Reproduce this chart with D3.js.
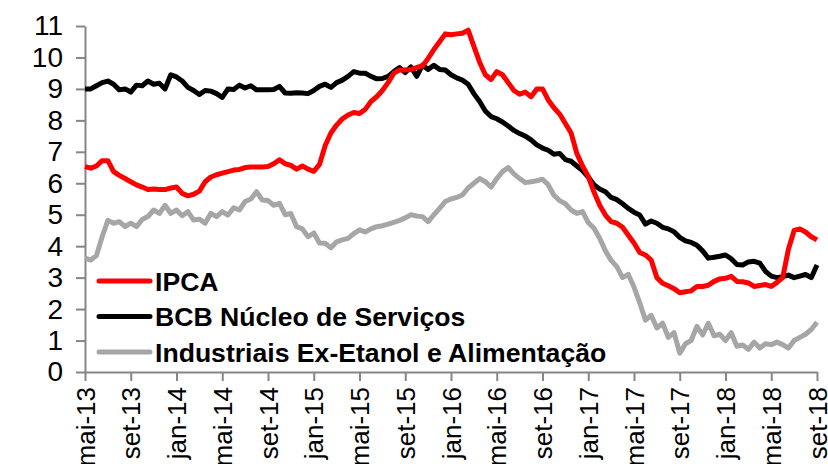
<!DOCTYPE html>
<html>
<head>
<meta charset="utf-8">
<script src="https://cdn.jsdelivr.net/npm/d3@7"></script>
<style>
body { margin: 0; background: #fff; }
svg { display: block; font-family: "Liberation Sans", Arial, sans-serif; }
</style>
</head>
<body>
<div id="chart"></div>
<script>
// readings every half month, mai-13 .. set-18
var xLabels = ["mai-13","set-13","jan-14","mai-14","set-14","jan-15","mai-15","set-15","jan-16",
               "mai-16","set-16","jan-17","mai-17","set-17","jan-18","mai-18","set-18"];
var yTicks = [0,1,2,3,4,5,6,7,8,9,10,11];

var ipca = [6.53,6.48,6.55,6.72,6.72,6.37,6.25,6.15,6.05,5.95,
            5.88,5.8,5.82,5.8,5.8,5.85,5.88,5.68,5.6,5.65,
            5.75,6.05,6.2,6.27,6.32,6.37,6.42,6.44,6.5,6.52,
            6.52,6.52,6.53,6.62,6.75,6.62,6.57,6.45,6.55,6.45,
            6.38,6.6,7.2,7.6,7.85,8.05,8.17,8.25,8.22,8.35,
            8.6,8.75,8.95,9.2,9.5,9.6,9.6,9.62,9.68,9.73,
            9.97,10.25,10.5,10.75,10.72,10.75,10.77,10.87,10.35,9.85,
            9.45,9.3,9.55,9.45,9.2,8.95,8.83,8.9,8.75,9.0,
            9.0,8.65,8.4,8.2,7.9,7.6,6.95,6.55,6.22,5.72,
            5.3,4.99,4.78,4.73,4.6,4.35,4.1,3.8,3.72,3.56,
            3.0,2.82,2.74,2.65,2.52,2.55,2.58,2.72,2.72,2.76,
            2.88,2.96,2.98,3.04,2.88,2.87,2.83,2.72,2.75,2.78,
            2.72,2.85,3.0,3.9,4.5,4.55,4.45,4.3,4.2];

var servicos = [9.0,9.0,9.1,9.2,9.25,9.15,8.97,9.0,8.9,9.12,
                9.1,9.25,9.15,9.18,9.0,9.45,9.38,9.25,9.05,8.95,
                8.82,8.95,8.93,8.85,8.73,9.0,8.98,9.12,9.03,9.1,
                8.97,8.97,8.97,8.98,9.08,8.87,8.86,8.88,8.87,8.85,
                8.95,9.08,9.15,9.05,9.2,9.28,9.4,9.55,9.5,9.5,
                9.4,9.32,9.33,9.4,9.55,9.68,9.52,9.7,9.4,9.75,
                9.62,9.75,9.62,9.6,9.45,9.35,9.28,9.15,8.85,8.6,
                8.3,8.12,8.05,7.95,7.82,7.68,7.58,7.5,7.38,7.22,
                7.12,7.05,6.92,6.95,6.75,6.7,6.55,6.4,6.2,5.95,
                5.82,5.73,5.55,5.48,5.35,5.2,5.08,4.99,4.7,4.8,
                4.73,4.6,4.55,4.46,4.28,4.17,4.12,4.03,3.85,3.62,
                3.65,3.68,3.72,3.6,3.42,3.4,3.5,3.52,3.46,3.2,
                3.05,3.0,3.03,3.08,3.0,3.05,3.1,3.0,3.4];

var industriais = [3.62,3.56,3.7,4.3,4.82,4.73,4.78,4.62,4.73,4.62,
                   4.85,4.94,5.15,5.04,5.3,5.04,5.15,4.97,5.1,4.83,
                   4.86,4.73,5.04,4.94,5.1,4.99,5.22,5.15,5.42,5.5,
                   5.73,5.47,5.45,5.3,5.36,5.0,5.04,4.62,4.55,4.3,
                   4.42,4.1,4.09,3.95,4.14,4.2,4.25,4.4,4.52,4.45,
                   4.55,4.62,4.65,4.7,4.76,4.82,4.9,5.0,4.96,4.94,
                   4.78,5.0,5.2,5.42,5.5,5.55,5.63,5.85,6.0,6.15,
                   6.05,5.88,6.15,6.37,6.5,6.3,6.15,6.02,6.05,6.08,
                   6.13,5.95,5.62,5.45,5.35,5.15,5.04,5.1,4.75,4.57,
                   4.25,3.85,3.55,3.35,3.0,3.1,2.7,2.2,1.65,1.8,
                   1.4,1.55,1.1,1.25,0.6,0.9,1.0,1.45,1.18,1.55,
                   1.15,1.2,1.0,1.25,0.82,0.86,0.72,0.95,0.76,0.9,
                   0.87,0.95,0.87,0.76,1.0,1.1,1.2,1.35,1.58];

var seriesNames = ["IPCA", "BCB Núcleo de Serviços", "Industriais Ex-Etanol e Alimentação"];
var seriesColors = ["#ff0000", "#000000", "#a6a6a6"];
var seriesData = [ipca, servicos, industriais];

var width = 828, height = 464;
var plotLeft = 85, plotRight = 817, plotTop = 26, plotBottom = 372;

var svg = d3.select("#chart").append("svg")
    .attr("width", width)
    .attr("height", height);

var xScale = d3.scaleLinear().domain([0, ipca.length - 1]).range([plotLeft, plotRight]);
var yScale = d3.scaleLinear().domain([0, 11]).range([plotBottom, plotTop]);

var axisColor = "#868686";

var yAxis = svg.append("g")
    .attr("transform", "translate(" + plotLeft + ",0)")
    .call(d3.axisLeft(yScale).tickValues(yTicks).tickSize(9).tickSizeOuter(0).tickPadding(13));
yAxis.selectAll("text").style("font-size", "28px").attr("fill", "#000");

var xAxis = svg.append("g")
    .attr("transform", "translate(0," + plotBottom + ")")
    .call(d3.axisBottom(xScale)
        .tickValues(d3.range(0, ipca.length, 8))
        .tickFormat(function(d, i){ return xLabels[i]; })
        .tickSize(9).tickSizeOuter(0));
xAxis.selectAll("text")
    .attr("transform", "rotate(-90)")
    .attr("x", -15)
    .attr("y", 0)
    .attr("dy", "0.35em")
    .style("text-anchor", "end")
    .style("font-size", "26px")
    .attr("fill", "#000");

svg.selectAll(".domain, .tick line")
    .attr("stroke", axisColor)
    .attr("stroke-width", 2);

var line = d3.line()
    .x(function(d, i){ return xScale(i); })
    .y(function(d){ return yScale(d); });

// draw last series first so IPCA ends up on top
for (var s = seriesData.length - 1; s >= 0; s--) {
    svg.append("path")
        .datum(seriesData[s])
        .attr("fill", "none")
        .attr("stroke", seriesColors[s])
        .attr("stroke-width", 5)
        .attr("stroke-linejoin", "round")
        .attr("d", line);
}

// legend
var legend = svg.append("g");
seriesNames.forEach(function(name, i){
    var ly = 281 + i * 35.5;
    legend.append("line")
        .attr("x1", 99).attr("x2", 150)
        .attr("y1", ly).attr("y2", ly)
        .attr("stroke", seriesColors[i])
        .attr("stroke-width", 5)
        .attr("stroke-linecap", "round");
    legend.append("text")
        .attr("x", 155)
        .attr("y", ly)
        .attr("dy", "0.36em")
        .style("font-size", "26.6px")
        .style("font-weight", "bold")
        .text(name);
});
</script>
</body>
</html>
